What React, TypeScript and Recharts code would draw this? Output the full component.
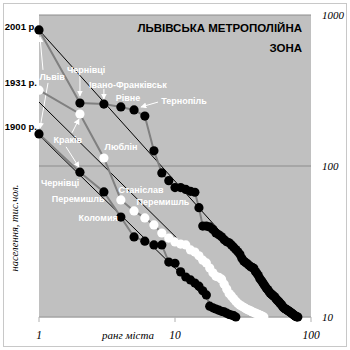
import React from 'react';
import { ComposedChart, Scatter, XAxis, YAxis, CartesianGrid, ReferenceLine, ReferenceDot } from 'recharts';

// населення міст (тис. чол.) у порядку рангу
const pop2001 = [
  796, 261, 257, 246, 235, 214, 126, 90, 80, 72,
  72, 70, 68, 67, 53, 40, 40, 39.5, 38, 36,
  35, 34, 32.5, 31.5, 31, 30, 29, 28, 27, 26,
  24.5, 23.5, 23, 22.5, 22, 21.5, 21.3, 21, 20, 19.5,
  18.8, 18, 17.5, 17, 16.5, 16, 15.5, 15.2, 14.8, 14.4,
  14.2, 14, 13.8, 13.6, 13.3, 13, 12.8, 12.6, 12.4, 12.2,
  12, 11.7, 11.5, 11.4, 11.3, 11.2, 11.1, 11, 10.9, 10.8,
  10.7, 10.6, 10.5, 10.4, 10.3, 10.2, 10.1, 10.05, 10.02, 10,
];
const pop1931 = [
  318, 221, 113, 59.6, 50.4, 45.3, 40.7, 36, 33.3, 31.4,
  30.4, 30, 27.8, 26.9, 25.4, 23.8, 22.8, 21.1, 19.6, 18.6,
  18.3, 17.8, 16.5, 15.3, 14.3, 13.8, 13.2, 12.7, 12.3, 12,
  11.8, 11.6, 11.4, 11.2, 11.1, 11, 10.8, 10.7, 10.6, 10.5,
  10.4, 10.3, 10.2, 10.1, 10,
];
const pop1900 = [
  163, 91, 67.3, 45.9, 33.9, 31.8, 30, 30, 23.1, 22.7,
  19.9, 18.4, 17.6, 16.8, 16, 14.9, 14, 11.8, 11.5, 11.3,
  11.1, 10.9, 10.8, 10.6, 10.4, 10.3, 10.2, 10,
];

// лінії тренду: [ранг, населення] на кінцях
const trend2001 = [[1, 796], [79, 10]];
const trend1931 = [[1, 265], [40, 10]];
const trend1900 = [[1, 160], [23.3, 10]];

const rankTicks = [1, 10, 100];
const popTicks = [10, 100, 1000];

const yearLabels = [
  { text: '2001 р.', pop: 832 },
  { text: '1931 р.', pop: 355 },
  { text: '1900 р.', pop: 181 },
];

const cityLabels = [
  { text: 'Львів', rank: 1.25, pop: 388 },
  { text: 'Чернівці', rank: 2.22, pop: 433 },
  { text: 'Івано-Франківськ', rank: 4.51, pop: 344 },
  { text: 'Рівне', rank: 4.51, pop: 282 },
  { text: 'Тернопіль', rank: 11.65, pop: 269 },
  { text: 'Краків', rank: 1.63, pop: 149 },
  { text: 'Люблін', rank: 4.01, pop: 134 },
  { text: 'Чернівці', rank: 1.43, pop: 77 },
  { text: 'Станіслав', rank: 5.62, pop: 69.4 },
  { text: 'Перемишль', rank: 1.94, pop: 60.4 },
  { text: 'Перемишль', rank: 8.16, pop: 57.8 },
  { text: 'Коломия', rank: 2.72, pop: 45.3 },
];

// стрілки від підписів до точок: [ранг, населення] -> [ранг, населення]
const arrows = [
  [[1.07, 433], [1.017, 715]],
  [[1.165, 355], [1.017, 178]],
  [[2, 401], [2, 291]],
  [[3, 324], [3, 278]],
  [[7.5, 265], [5.62, 246]],
  [[1.75, 166], [1.97, 205]],
  [[1.58, 134], [1.97, 98]],
];

const toPoints = (arr: number[]) => arr.map((pop, i) => ({ rank: i + 1, pop }));
const data2001 = toPoints(pop2001);
const data1931 = toPoints(pop1931);
const data1900 = toPoints(pop1900);

const blackDot = (p: any) => <circle cx={p.cx} cy={p.cy} r={4.6} fill="#000" />;
const whiteDot = (p: any) => <circle cx={p.cx} cy={p.cy} r={4.6} fill="#fff" />;

const serif = '"Liberation Serif", "Times New Roman", serif';
const sans = '"Liberation Sans", Arial, sans-serif';

const seg = (t: number[][]) => [{ x: t[0][0], y: t[0][1] }, { x: t[1][0], y: t[1][1] }];

export default function App() {
  return (
    <div style={{ position: 'absolute', left: 0, top: 0, width: 350, height: 350, background: '#fff' }}>
      <svg width={0} height={0} style={{ position: 'absolute' }}>
        <defs>
          <marker id="arrowW" viewBox="0 0 10 10" refX="9" refY="5" markerWidth="6" markerHeight="6" orient="auto">
            <path d="M0,0 L10,5 L0,10 z" fill="#fff" />
          </marker>
        </defs>
      </svg>
      <ComposedChart width={350} height={350} margin={{ top: 15, right: 0, left: 39, bottom: 3 }}>
        <CartesianGrid vertical={false} stroke="#8c8c8c" fill="#c0c0c0" />
        <XAxis
          type="number"
          dataKey="rank"
          scale="log"
          domain={[1, 100]}
          ticks={rankTicks}
          height={30}
          stroke="#b0b0b0"
          tickSize={5}
          tickMargin={9}
          tick={{ fontFamily: serif, fontStyle: 'italic', fontSize: 11.5, fill: '#000' }}
        />
        <YAxis
          type="number"
          dataKey="pop"
          scale="log"
          domain={[10, 1000]}
          ticks={popTicks}
          orientation="right"
          width={39}
          axisLine={false}
          tickLine={false}
          tickSize={6}
          tickMargin={5}
          tick={{ fontFamily: serif, fontStyle: 'italic', fontSize: 11, fill: '#000' }}
        />
        {cityLabels.map((l, i) => (
          <ReferenceDot
            key={'c' + i}
            x={l.rank}
            y={l.pop}
            r={0}
            stroke="none"
            fill="none"
            label={{ value: l.text, position: 'center', fill: '#fff', fontSize: 9, fontWeight: 700, fontFamily: sans }}
          />
        ))}
        {arrows.map((a, i) => (
          <ReferenceLine key={'a' + i} segment={seg(a)} stroke="#fff" strokeWidth={1} markerEnd="url(#arrowW)" />
        ))}
        <Scatter data={data1931} line={{ stroke: '#808080', strokeWidth: 2 }} shape={whiteDot} isAnimationActive={false} />
        <Scatter data={data1900} line={{ stroke: '#808080', strokeWidth: 2 }} shape={blackDot} isAnimationActive={false} />
        <Scatter data={data2001} line={{ stroke: '#808080', strokeWidth: 2 }} shape={blackDot} isAnimationActive={false} />
        <ReferenceLine segment={seg(trend2001)} stroke="#000" strokeWidth={1} />
        <ReferenceLine segment={seg(trend1931)} stroke="#000" strokeWidth={1} />
        <ReferenceLine segment={seg(trend1900)} stroke="#000" strokeWidth={1} />
        {yearLabels.map((l, i) => (
          <ReferenceDot
            key={'y' + i}
            x={1}
            y={l.pop}
            r={0}
            stroke="none"
            fill="none"
            ifOverflow="visible"
            label={{ value: l.text, position: 'left', offset: 2, fill: '#000', fontSize: 9.5, fontWeight: 700, fontFamily: sans }}
          />
        ))}
      </ComposedChart>
      <svg width={350} height={350} style={{ position: 'absolute', left: 0, top: 0, pointerEvents: 'none' }}>
        <rect x={3.5} y={3.5} width={343} height={343} fill="none" stroke="#c8c8c8" />
        <text x={302} y={32} textAnchor="end" fontFamily={sans} fontWeight={700} fontSize={11.5} fill="#000">
          ЛЬВІВСЬКА МЕТРОПОЛІЙНА
        </text>
        <text x={302} y={52} textAnchor="end" fontFamily={sans} fontWeight={700} fontSize={11.5} fill="#000">
          ЗОНА
        </text>
        <text x={128} y={339} textAnchor="middle" fontFamily={serif} fontStyle="italic" fontSize={11} fill="#000">
          ранг міста
        </text>
        <text
          x={0}
          y={0}
          transform="translate(18,228) rotate(-90)"
          textAnchor="middle"
          fontFamily={serif}
          fontStyle="italic"
          fontSize={10.5}
          fill="#000"
        >
          населення, тис.чол.
        </text>
      </svg>
    </div>
  );
}
